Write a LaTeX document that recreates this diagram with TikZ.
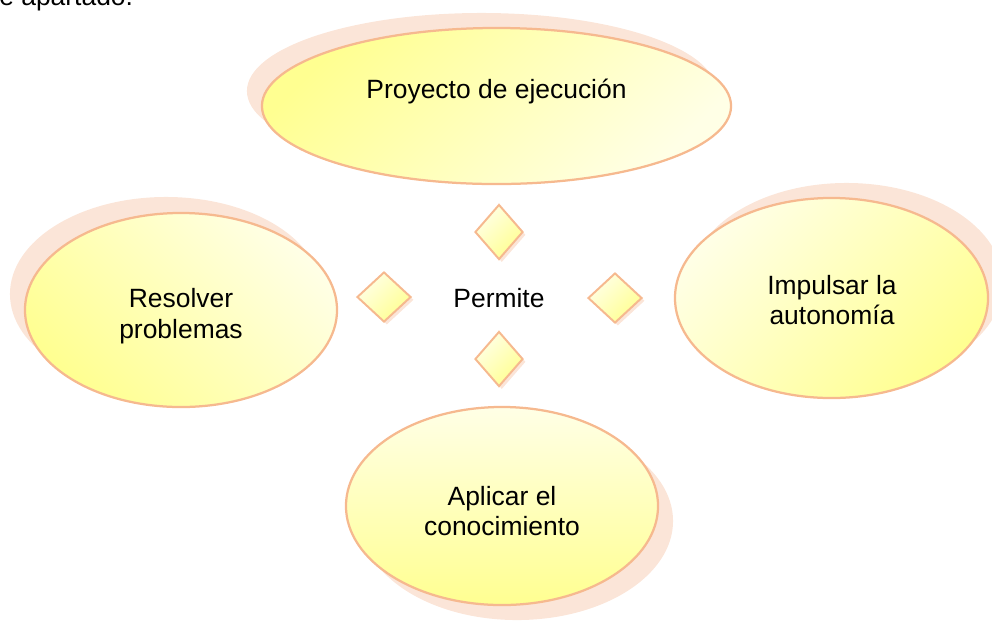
\documentclass[tikz,border=0pt]{standalone}
\usepackage{fontspec}
\setmainfont{Liberation Sans}
\usetikzlibrary{shapes.geometric,shadows}

\definecolor{borde}{RGB}{246,185,143}
\definecolor{sombra}{RGB}{251,229,216}
\definecolor{amarillo}{RGB}{255,255,145}
\definecolor{crema}{RGB}{255,255,230}

\begin{document}
\begin{tikzpicture}[x=0.025cm, y=-0.025cm,
    font=\fontsize{18.8pt}{21.8pt}\selectfont,
    burbuja/.style={ellipse, draw=borde, line width=1.6pt, inner sep=0pt},
    rombo/.style={diamond, draw=borde, line width=1.4pt, inner sep=0pt,
      top color=crema, bottom color=amarillo, shading angle=45,
      drop shadow={shadow xshift=0.07cm, shadow yshift=-0.07cm, fill=sombra, opacity=1}},
    texto/.style={align=center}]
        \useasboundingbox (0, 0) rectangle (992, 621);
        \node[anchor=base west, inner sep=0pt] (apartado) at (-1, 5) {e apartado.};
        % elipses
        \node[burbuja, minimum width=11.725cm, minimum height=3.9cm,
          top color=amarillo, bottom color=crema, shading angle=45,
          drop shadow={shadow xshift=-0.375cm, shadow yshift=0.375cm, fill=sombra, opacity=1}]
          (proyecto) at (496.5, 106) {};
        \node[burbuja, minimum width=7.8cm, minimum height=4.85cm,
          top color=crema, bottom color=amarillo, shading angle=-45,
          drop shadow={shadow xshift=-0.375cm, shadow yshift=0.4cm, fill=sombra, opacity=1}]
          (resolver) at (181, 310) {};
        \node[burbuja, minimum width=7.825cm, minimum height=5cm,
          top color=crema, bottom color=amarillo, shading angle=45,
          drop shadow={shadow xshift=0.375cm, shadow yshift=0.375cm, fill=sombra, opacity=1}]
          (impulsar) at (831.5, 298) {};
        \node[burbuja, minimum width=7.8cm, minimum height=4.95cm,
          top color=crema, bottom color=amarillo,
          drop shadow={shadow xshift=0.375cm, shadow yshift=-0.375cm, fill=sombra, opacity=1}]
          (aplicar) at (502, 506) {};
        % textos
        \node[texto] (proyecto-txt) at (496.5, 92) {Proyecto de ejecución};
        \node[texto] (resolver-txt) at (181, 316) {Resolver\\problemas};
        \node[texto] (impulsar-txt) at (832, 300) {Impulsar la\\autonomía};
        \node[texto] (aplicar-txt) at (502, 511) {Aplicar el\\conocimiento};
        % rombos alrededor de Permite
        \node (permite) at (499, 298) {Permite};
        \node[rombo, minimum width=1.2cm, minimum height=1.375cm] (rombo-arriba) at (499, 232) {};
        \node[rombo, minimum width=1.2cm, minimum height=1.375cm] (rombo-abajo) at (499, 359) {};
        \node[rombo, minimum width=1.35cm, minimum height=1.25cm] (rombo-izq) at (384, 297) {};
        \node[rombo, minimum width=1.35cm, minimum height=1.25cm] (rombo-der) at (615, 298) {};
      \end{tikzpicture}
\end{document}
